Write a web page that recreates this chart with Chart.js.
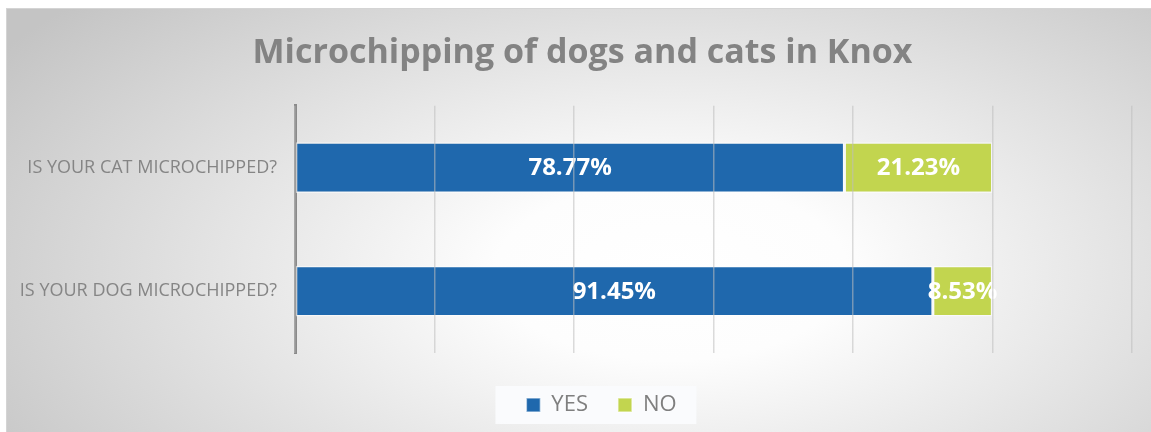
<!DOCTYPE html>
<html>
<head>
<meta charset="utf-8">
<script src="https://cdn.jsdelivr.net/npm/chart.js@4.4.1/dist/chart.umd.min.js"></script>
<style>
  html, body { margin: 0; padding: 0; background: #fff; }
  #frame {
    position: absolute; left: 6px; top: 8px; width: 1145px; height: 424px;
    border-top: 1px solid #d4d4d4; border-left: 1px solid #d4d4d4;
    background: radial-gradient(ellipse 70% 95% at 58% 62%, #ffffff 0%, #fdfdfd 22%, #c4c4c4 100%);
  }
  #wrap { position: absolute; left: 0; top: 0; width: 1144px; height: 423px; }
</style>
</head>
<body>
<div id="frame"><div id="wrap"><canvas id="chipChart"></canvas></div></div>
<script>
const categories = ["IS YOUR CAT MICROCHIPPED?", "IS YOUR DOG MICROCHIPPED?"];
const yesValues = [78.77, 91.45];
const noValues = [21.23, 8.53];
const xMax = 120;
const xStep = 20;

// percentage labels centred on each segment
const segmentLabels = {
    id: "segmentLabels",
    afterDatasetsDraw(chart) {
        const ctx = chart.ctx;
        ctx.save();
        ctx.fillStyle = "#ffffff";
        ctx.font = "bold 24px 'Open Sans'";
        ctx.textAlign = "center";
        ctx.textBaseline = "middle";
        chart.data.datasets.forEach((ds, i) => {
            chart.getDatasetMeta(i).data.forEach((bar, j) => {
                const p = bar.getProps(["x", "y", "base"], true);
                ctx.fillText(ds.data[j].toFixed(2) + "%", (p.x + p.base) / 2, p.y + 1);
            });
        });
        ctx.restore();
    }
};

// nudge title and legend right a little, and put a pale box behind the legend
const legendBox = {
    id: "legendBox",
    afterLayout(chart) {
        const tt = chart.titleBlock;
        if (tt) {
            tt.left += 13;
            tt.right += 13;
        }
        const lg = chart.legend;
        if (lg) {
            lg.left += 32;
            lg.right += 32;
        }
    },
    beforeDraw(chart) {
        const lg = chart.legend;
        if (!lg || !lg.lineWidths) return;
        const pad = lg.options.labels.padding;
        const startX = (lg.left + pad + lg.right - lg.lineWidths[0]) / 2;
        const mid = lg.top + pad + 11;
        const ctx = chart.ctx;
        ctx.save();
        ctx.fillStyle = "rgba(250,251,253,0.95)";
        ctx.fillRect(startX - 31, mid - 19, 201, 38);
        ctx.restore();
    }
};

new Chart(document.getElementById("chipChart"), {
    type: "bar",
    data: {
        labels: categories,
        datasets: [{
            label: "YES",
            data: yesValues,
            backgroundColor: "#1f68ad",
            borderColor: "rgba(255,255,255,0.55)",
            borderWidth: 1.5,
            borderSkipped: false
        }, {
            label: "NO",
            data: noValues,
            backgroundColor: "#c2d54f",
            borderColor: "rgba(255,255,255,0.55)",
            borderWidth: 1.5,
            borderSkipped: false
        }]
    },
    options: {
        indexAxis: "y",
        responsive: true,
        maintainAspectRatio: false,
        animation: false,
        layout: { padding: { top: 0, right: 19, bottom: 6, left: 0 } },
        datasets: { bar: { barPercentage: 0.41, categoryPercentage: 1 } },
        scales: {
            x: {
                stacked: true,
                min: 0,
                max: xMax,
                afterFit(scale) { scale.height = 11; },
                ticks: { display: false, stepSize: xStep },
                grid: { color: "rgba(190,190,190,0.55)", lineWidth: 1.5, drawTicks: false, z: 1 },
                border: { display: false }
            },
            y: {
                stacked: true,
                afterFit(scale) { scale.width = 288; },
                ticks: { color: "#858585", font: { family: "'Open Sans'", size: 18 }, padding: 18 },
                grid: { display: false, drawTicks: false },
                border: { display: true, color: "#8a8a8a", width: 3 }
            }
        },
        plugins: {
            title: {
                display: true,
                text: "Microchipping of dogs and cats in Knox",
                color: "#838383",
                font: { family: "'Open Sans'", size: 34, weight: "bold" },
                padding: { top: 24, bottom: 32 }
            },
            legend: {
                position: "bottom",
                labels: {
                    color: "#7f7f7f",
                    font: { family: "'Open Sans'", size: 22 },
                    boxWidth: 14,
                    boxHeight: 14,
                    padding: 30
                }
            },
            tooltip: { enabled: false }
        }
    },
    plugins: [segmentLabels, legendBox]
});
</script>
</body>
</html>
